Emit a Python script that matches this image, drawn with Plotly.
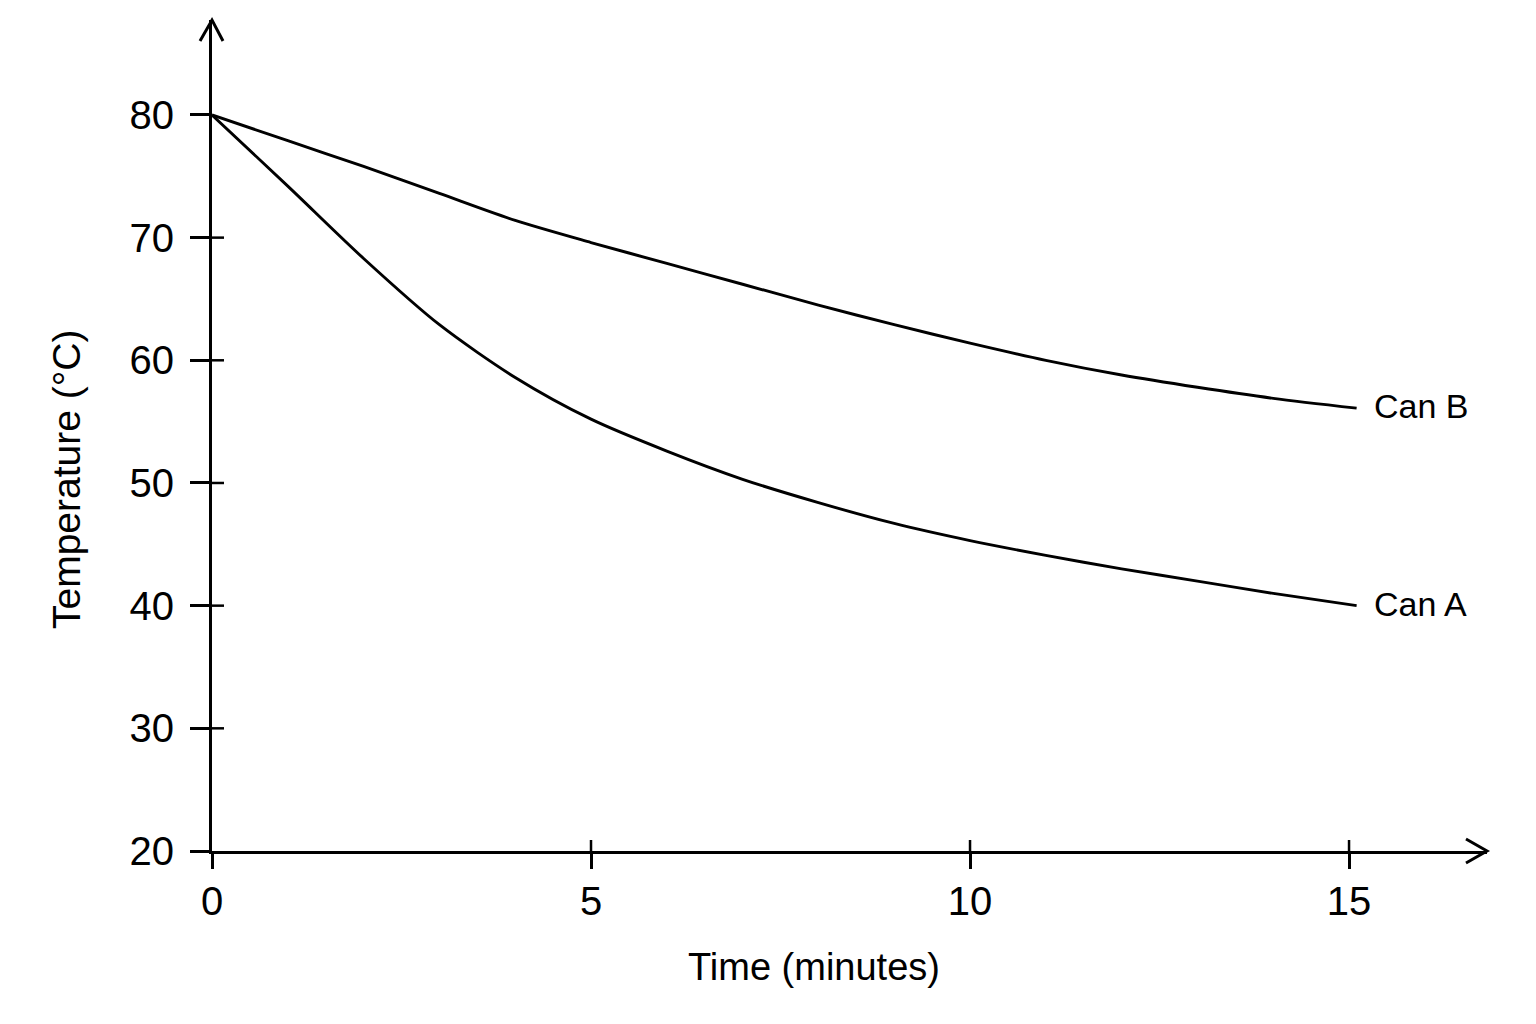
import plotly.graph_objects as go

# ---- data ----
time_min = [0, 1, 2, 3, 4, 5, 6, 7, 8, 9, 10, 11, 12, 13, 14, 15.1]
can_a = [80, 74.2, 68.3, 62.9, 58.6, 55.2, 52.6, 50.3, 48.4, 46.7, 45.3, 44.1, 43.0, 42.0, 41.0, 40.0]
can_b = [80, 77.9, 75.8, 73.6, 71.4, 69.6, 67.9, 66.2, 64.5, 62.9, 61.4, 60.0, 58.8, 57.8, 56.9, 56.1]
series_names = ["Can A", "Can B"]
x_ticks = [0, 5, 10, 15]
y_ticks = [20, 30, 40, 50, 60, 70, 80]
x_inner_ticks = [5, 10, 15]
y_inner_ticks = [30, 40, 50, 60, 70]
x_title = "Time (minutes)"
y_title = "Temperature (°C)"

X_MAX = 16.82
Y_MIN, Y_MAX = 20, 87.74
FONT = "Liberation Sans, Arial, sans-serif"

# page body has an 8px margin; compensate so the plot lands on the reference pixels
OFF = 8
L, T, R, B = 212 - OFF, 20 - OFF, 49, 173
W, H = 1536 - OFF, 1024 - OFF
PLOT_W = 1487 - 212
PLOT_H = 851 - 20

fig = go.Figure()
for name, ys in zip(series_names, [can_a, can_b]):
    fig.add_trace(go.Scatter(
        x=time_min, y=ys, mode="lines", name=name,
        line=dict(color="black", width=2.9, shape="spline", smoothing=0.8),
        hoverinfo="skip", showlegend=False,
    ))
    fig.add_annotation(
        x=time_min[-1], y=ys[-1], text=name, showarrow=False,
        xanchor="left", yanchor="middle", xshift=15, yshift=2,
        font=dict(family=FONT, size=34, color="black"),
    )

shapes = []
# inner halves of crossing ticks
for xv in x_inner_ticks:
    shapes.append(dict(type="line", xref="x", yref="y", x0=xv, x1=xv,
                       ysizemode="pixel", yanchor=Y_MIN, y0=0, y1=11,
                       line=dict(color="black", width=2.5)))
for yv in y_inner_ticks:
    shapes.append(dict(type="line", xref="x", yref="y", y0=yv, y1=yv,
                       xsizemode="pixel", xanchor=0, x0=0, x1=12,
                       line=dict(color="black", width=2.5)))
# arrow heads (paper refs so they are not clipped)
shapes.append(dict(type="path", xref="paper", yref="paper",
                   xsizemode="pixel", ysizemode="pixel", xanchor=0, yanchor=1,
                   path="M -12,-21 L 0,0 L 11,-21",
                   line=dict(color="black", width=3)))
shapes.append(dict(type="path", xref="paper", yref="paper",
                   xsizemode="pixel", ysizemode="pixel", xanchor=1, yanchor=0,
                   path="M -21,12 L 0,0 L -21,-12",
                   line=dict(color="black", width=3)))

fig.update_layout(
    width=W, height=H,
    margin=dict(l=L, r=R, t=T, b=B, pad=0),
    paper_bgcolor="white", plot_bgcolor="white",
    shapes=shapes,
    font=dict(family=FONT, color="black"),
)
fig.update_xaxes(
    range=[0, X_MAX], tickvals=x_ticks, ticktext=[str(v) for v in x_ticks],
    ticks="outside", ticklen=15, tickwidth=2.5, tickcolor="black",
    showline=True, linecolor="black", linewidth=3,
    showgrid=False, zeroline=False, ticklabelstandoff=-2,
    tickfont=dict(family=FONT, size=40, color="black"),
)
fig.update_yaxes(
    range=[Y_MIN, Y_MAX], tickvals=y_ticks, ticktext=[str(v) for v in y_ticks],
    ticks="outside", ticklen=19, tickwidth=2.5, tickcolor="black",
    showline=True, linecolor="black", linewidth=3,
    showgrid=False, zeroline=False, ticklabelstandoff=8,
    tickfont=dict(family=FONT, size=40, color="black"),
)
fig.add_annotation(xref="paper", yref="paper", x=(814 - 212) / PLOT_W, y=-(967 - 851) / PLOT_H,
                   text=x_title, showarrow=False, xanchor="center", yanchor="middle",
                   font=dict(family=FONT, size=38, color="black"))
fig.add_annotation(xref="paper", yref="paper", x=-(212 - 66) / PLOT_W, y=(851 - 479) / PLOT_H,
                   text=y_title, showarrow=False, textangle=-90, xanchor="center", yanchor="middle",
                   font=dict(family=FONT, size=39, color="black"))

fig.write_html("out.html")
